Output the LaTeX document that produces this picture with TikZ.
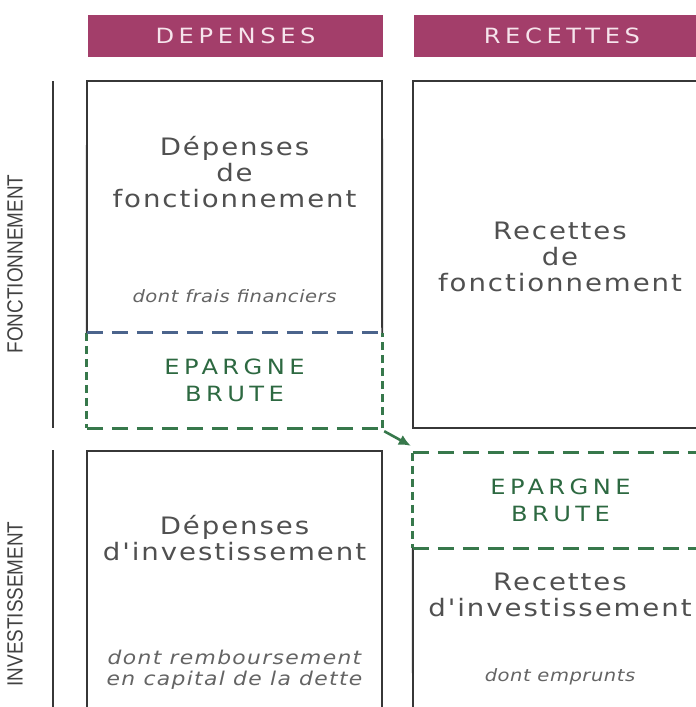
\documentclass[tikz,border=0pt]{standalone}
\usepackage{graphicx}
\usepackage{fontspec}
\setmainfont{DejaVu Sans}
\newfontfamily\boxfont[FakeStretch=1.15,LetterSpace=8]{DejaVu Sans}
\newfontfamily\capsfont[FakeStretch=1.15,LetterSpace=21]{DejaVu Sans}
\newfontfamily\headfont[FakeStretch=1.15,LetterSpace=22]{DejaVu Sans}
\newfontfamily\notefont[FakeStretch=1.15,LetterSpace=3]{DejaVu Sans}
\newfontfamily\bignotefont[FakeStretch=1.15,LetterSpace=7]{DejaVu Sans}
\newfontfamily\sidefont{Liberation Sans}
\usetikzlibrary{positioning,arrows.meta}

\definecolor{barcol}{RGB}{163,62,106}
\definecolor{headtext}{RGB}{246,228,236}
\definecolor{framecol}{RGB}{55,55,55}
\definecolor{textcol}{RGB}{80,80,80}
\definecolor{notecol}{RGB}{100,100,100}
\definecolor{epgreen}{RGB}{45,105,65}
\definecolor{dashgreen}{RGB}{55,120,75}
\definecolor{dashblue}{RGB}{75,100,140}
\definecolor{labelcol}{RGB}{65,65,65}

\begin{document}
\begin{tikzpicture}[x=1pt,y=-1pt,
	headbar/.style={fill=barcol, text=headtext, minimum width=295pt, minimum height=42pt, inner sep=0pt, font=\headfont\fontsize{21}{24}\selectfont},
	boxtext/.style={text=textcol, align=center, inner sep=0pt, font=\boxfont\fontsize{24}{26}\selectfont},
	notetext/.style={text=notecol, align=center, inner sep=0pt, font=\notefont\itshape\fontsize{17}{20}\selectfont},
	bignote/.style={notetext, font=\bignotefont\itshape\fontsize{19}{21}\selectfont},
	epbox/.style={minimum width=295pt, minimum height=95pt, inner sep=0pt, text=epgreen, align=center, font=\capsfont\fontsize{21}{27}\selectfont},
	sidelabel/.style={rotate=90, text=labelcol, inner sep=0pt, font=\sidefont\fontsize{22}{24}\selectfont},
	boxline/.style={draw=framecol, line width=1.9pt},
	sidebar/.style={draw=framecol, line width=2.6pt},
	hdash/.style={draw=dashgreen, line width=3pt, dash pattern=on 16pt off 9pt},
	vdash/.style={draw=dashgreen, line width=3pt, dash pattern=on 8pt off 5pt},
	arrowline/.style={draw=dashgreen, line width=2.6pt, -{Latex[length=12pt,width=11pt]}}
	]
	\useasboundingbox (0,0) rectangle (696,707);
	\clip (0,0) rectangle (696,707);
	\fill[white] (0,0) rectangle (696,707);

	\node[headbar] (dep) at (235.5,36) {DEPENSES};
	\node[headbar, right=31pt of dep] (rec) {RECETTES};

	% left column
	\node[boxtext] (depfonc) at (234.5,172) {Dépenses\\de\\fonctionnement};
	\node[notetext] (frais) at (234.5,296) {dont frais financiers};
	\node[epbox] (ebd) at (234.5,380.5) {EPARGNE\\BRUTE};
	\node[boxtext] (depinv) at (234.5,538) {Dépenses\\d'investissement};
	\node[bignote] (rembt) at (234.5,670) {dont remboursement\\en capital de la dette};

	% right column
	\node[boxtext] (recfonc) at (560,257) {Recettes\\de\\fonctionnement};
	\node[epbox] (ebr) at (560.5,500.5) {EPARGNE\\BRUTE};
	\node[boxtext] (recinv) at (560,595) {Recettes\\d'investissement};
	\node[notetext] (empr) at (560,677) {dont emprunts};

	\node[sidelabel] (fonc) at (15,264) {\scalebox{0.86}[1]{FONCTIONNEMENT}};
	\node[sidelabel] (invest) at (15,604) {\scalebox{0.86}[1]{INVESTISSEMENT}};

	% frames
	\draw[sidebar] (53,81) -- (53,428);
	\draw[sidebar] (53,450) -- (53,720);
	\draw[boxline] (ebd.north west) -- (87,81) -- (382,81) -- (ebd.north east);
	\draw[boxline] (413,81) rectangle (720,428);
	\draw[boxline] (87,720) -- (87,451) -- (382,451) -- (382,720);
	\draw[boxline] (ebr.south west) -- (413,720);

	% epargne brute
	\draw[vdash] (ebd.north west) -- (ebd.south west);
	\draw[hdash] (ebd.south west) -- (ebd.south east);
	\draw[vdash] (ebd.south east) -- (ebd.north east);
	\draw[hdash, draw=dashblue] (ebd.north west) -- (ebd.north east);
	\draw[hdash] (ebr.north west) -- (ebr.north east);
	\draw[vdash] (ebr.north west) -- (ebr.south west);
	\draw[hdash] (ebr.south west) -- (ebr.south east);

	\draw[arrowline] ([xshift=2pt,yshift=-3pt]ebd.south east) -- ([xshift=-2pt,yshift=7pt]ebr.north west);
\end{tikzpicture}
\end{document}
